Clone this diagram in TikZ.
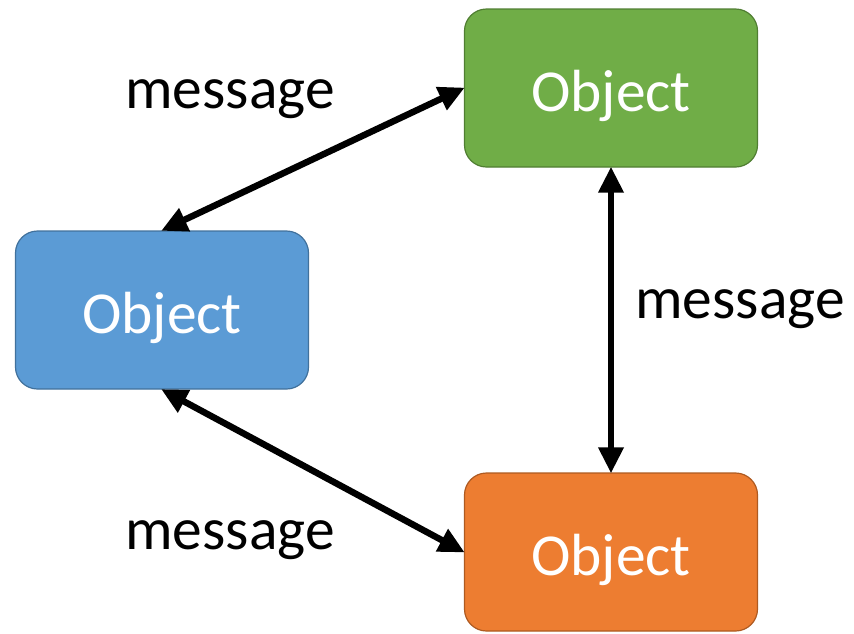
\documentclass[tikz,border=0pt]{standalone}
\usepackage{fontspec}
\setmainfont{Carlito}
\usetikzlibrary{arrows.meta}
\definecolor{bluefill}{HTML}{5B9BD5}
\definecolor{blueline}{HTML}{41719C}
\definecolor{greenfill}{HTML}{70AD47}
\definecolor{greenline}{HTML}{507E32}
\definecolor{orangefill}{HTML}{ED7D31}
\definecolor{orangeline}{HTML}{AE5A21}
\tikzset{
  objbox/.style={rounded corners=22pt, minimum width=293pt, minimum height=158pt,
    line width=1.2pt, text=white, font=\fontsize{59.5}{60}\selectfont, inner sep=0pt,
    text height=59pt, text depth=12pt},
  msg/.style={font=\fontsize{59.5}{60}\selectfont, text=black, inner sep=0pt},
  link/.style={line width=6.5pt, {Triangle[length=26pt,width=24pt]}-{Triangle[length=26pt,width=24pt]}, shorten <=-1pt, shorten >=-1pt}
}
\begin{document}
\begin{tikzpicture}[x=1pt,y=-1pt]
\useasboundingbox (0,0) rectangle (854,633);
\node[objbox, fill=bluefill, draw=blueline] (blue) at (162,310) {Object};
\node[objbox, fill=greenfill, draw=greenline] (green) at (611,88) {Object};
\node[objbox, fill=orangefill, draw=orangeline] (orange) at (611,552) {Object};
\draw[link] (blue.north) -- (green.west);
\draw[link] (blue.south) -- (orange.west);
\draw[link] (green.south) -- (orange.north);
\node[msg] (m1) at (230,99) {message};
\node[msg] (m2) at (230,540) {message};
\node[msg] (m3) at (740,309) {message};
\end{tikzpicture}
\end{document}
